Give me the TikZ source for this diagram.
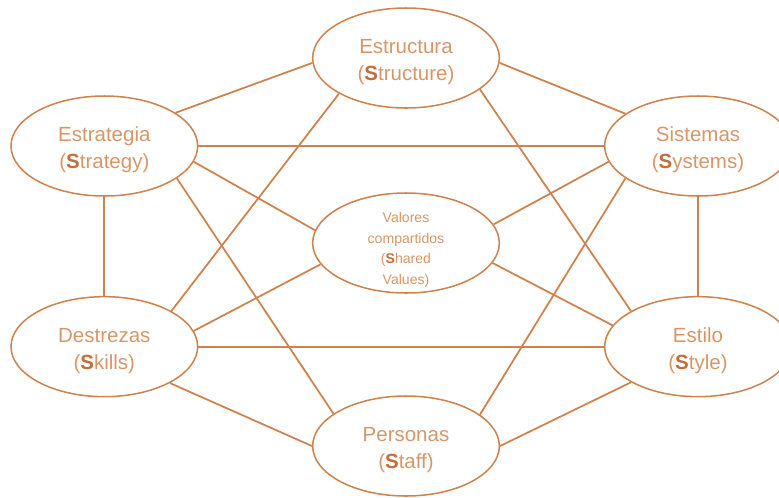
\documentclass[tikz,border=0pt]{standalone}
\usepackage{fontspec}
\setmainfont{Liberation Sans}
\usetikzlibrary{shapes.geometric}
\definecolor{lineC}{RGB}{206,130,78}
\definecolor{textC}{RGB}{216,150,104}
\definecolor{boldC}{RGB}{196,110,58}
\newcommand{\bS}{{\color{boldC}\bfseries S}}
\tikzset{
  oval/.style={draw=lineC, line width=1.3pt, ellipse, minimum width=5.6cm, minimum height=3cm,
    inner sep=0pt, align=center, text=textC, text height=1.47cm, font=\fontsize{17.5}{23}\selectfont},
  link/.style={draw=lineC, line width=1.5pt}
}
\begin{document}
\begin{tikzpicture}
\useasboundingbox (0,0) rectangle (23.37,-14.91);
\node[oval] (estructura) at (12.18,-1.74) {Estructura\\(\bS tructure)};
\node[oval] (estrategia) at (3.13,-4.38) {Estrategia\\(\bS trategy)};
\node[oval] (sistemas) at (20.94,-4.38) {Sistemas\\(\bS ystems)};
\node[oval, text height=, font=\fontsize{12}{17.5}\selectfont] (valores) at (12.18,-7.29)
  {\raisebox{-0.18cm}[2.1cm][0pt]{\begin{tabular}[b]{@{}c@{}}Valores\\compartidos\\(\bS hared\\Values)\end{tabular}}};
\node[oval] (destrezas) at (3.13,-10.4) {Destrezas\\(\bS kills)};
\node[oval] (estilo) at (20.94,-10.4) {Estilo\\(\bS tyle)};
\node[oval] (personas) at (12.18,-13.38) {Personas\\(\bS taff)};
\draw[link] (estrategia.25) -- (estructura.183);
\draw[link] (estructura.357) -- (sistemas.156);
\draw[link] (estructura.208) -- (destrezas.28);
\draw[link] (estructura.337) -- (estilo.152);
\draw[link] (estrategia.east) -- (sistemas.west);
\draw[link] (estrategia.350) -- (valores.172);
\draw[link] (estrategia.336) -- (personas.156);
\draw[link] (estrategia.south) -- (destrezas.north);
\draw[link] (sistemas.190) -- (valores.12);
\draw[link] (sistemas.204) -- (personas.23);
\draw[link] (sistemas.south) -- (estilo.north);
\draw[link] (valores.194) -- (destrezas.10);
\draw[link] (valores.347) -- (estilo.166);
\draw[link] (destrezas.east) -- (estilo.west);
\draw[link] (destrezas.331) -- (personas.west);
\draw[link] (estilo.208) -- (personas.east);
\end{tikzpicture}
\end{document}
